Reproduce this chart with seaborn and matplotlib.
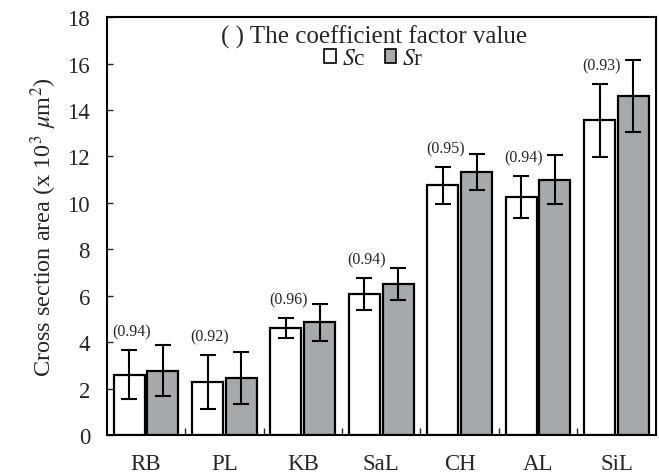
import numpy as np
import pandas as pd
import matplotlib
matplotlib.use("Agg")
import matplotlib.pyplot as plt
from matplotlib.patches import Patch
from matplotlib.ticker import FixedLocator
import seaborn as sns

categories = ["RB", "PL", "KB", "SaL", "CH", "AL", "SiL"]
sc_values = [2.6, 2.28, 4.6, 6.08, 10.75, 10.24, 13.55]
sc_errors = [1.05, 1.15, 0.42, 0.7, 0.78, 0.9, 1.57]
sr_values = [2.76, 2.46, 4.85, 6.5, 11.32, 10.99, 14.6]
sr_errors = [1.1, 1.12, 0.8, 0.7, 0.78, 1.05, 1.56]
coef_labels = ["(0.94)", "(0.92)", "(0.96)", "(0.94)", "(0.95)", "(0.94)", "(0.93)"]
series = ["Sc", "Sr"]

sns.set_theme(style="ticks")
plt.rcParams["font.family"] = ["Liberation Serif", "DejaVu Serif"]
plt.rcParams["mathtext.fontset"] = "stix"

df = pd.DataFrame({
    "cat": categories * 2,
    "series": [series[0]] * len(categories) + [series[1]] * len(categories),
    "value": sc_values + sr_values,
})

fig = plt.figure(figsize=(6.59, 4.77), dpi=100)
ax = fig.add_axes([0.162, 0.086, 0.833, 0.876])

sns.barplot(data=df, x="cat", y="value", hue="series", order=categories,
            hue_order=series, palette=["white", "#a6a9ac"], width=0.86, gap=0.08,
            edgecolor="black", linewidth=1.6, errorbar=None, ax=ax, legend=False,
            saturation=1)

errs = [sc_errors, sr_errors]
for cont, er in zip(ax.containers, errs):
    xs = [p.get_x() + p.get_width() / 2 for p in cont.patches]
    ys = [p.get_height() for p in cont.patches]
    ax.errorbar(xs, ys, yerr=er, fmt="none", ecolor="black", elinewidth=1.5,
                capsize=5.5, capthick=1.5, zorder=5)

sc_cont = ax.containers[0]
for p, v, e, lab in zip(sc_cont.patches, sc_values, sc_errors, coef_labels):
    ax.text(p.get_x() + p.get_width() / 2 + 0.03, v + e + 0.8, lab,
            ha="center", va="center", fontsize=11.5)

ax.set_ylim(0, 18)
ax.set_xlim(-0.5, len(categories) - 0.5)
ax.set_yticks(np.arange(0, 19, 2))
ax.set_xlabel("")
ax.set_ylabel(r"Cross section area (x 10$^3$ $\mu$m$^2$)", fontsize=17.5, labelpad=6)
ax.tick_params(axis="x", which="major", length=0, pad=13, labelsize=16.5)
ax.tick_params(axis="y", which="major", direction="in", length=4, width=1, pad=12, labelsize=16.5)
ax.xaxis.set_minor_locator(FixedLocator(np.arange(0.5, len(categories) - 1, 1.0)))
ax.tick_params(axis="x", which="minor", direction="in", length=5, width=1, bottom=True)
for s in ax.spines.values():
    s.set_visible(True)
    s.set_linewidth(1.5)
    s.set_color("black")

handles = [Patch(facecolor="white", edgecolor="black", linewidth=1.2),
           Patch(facecolor="#a6a9ac", edgecolor="black", linewidth=1.2)]
labels = [r"$\it{S}$c", r"$\it{S}$r"]
leg = ax.legend(handles, labels, title="( ) The coefficient factor value",
                loc="upper center", bbox_to_anchor=(0.487, 1.015), ncol=2,
                frameon=False, fontsize=17, title_fontsize=18,
                handlelength=0.5, handleheight=0.5, handletextpad=0.25,
                columnspacing=0.8, borderpad=0.1, labelspacing=0.0)

fig.savefig("out.png", dpi=100)
